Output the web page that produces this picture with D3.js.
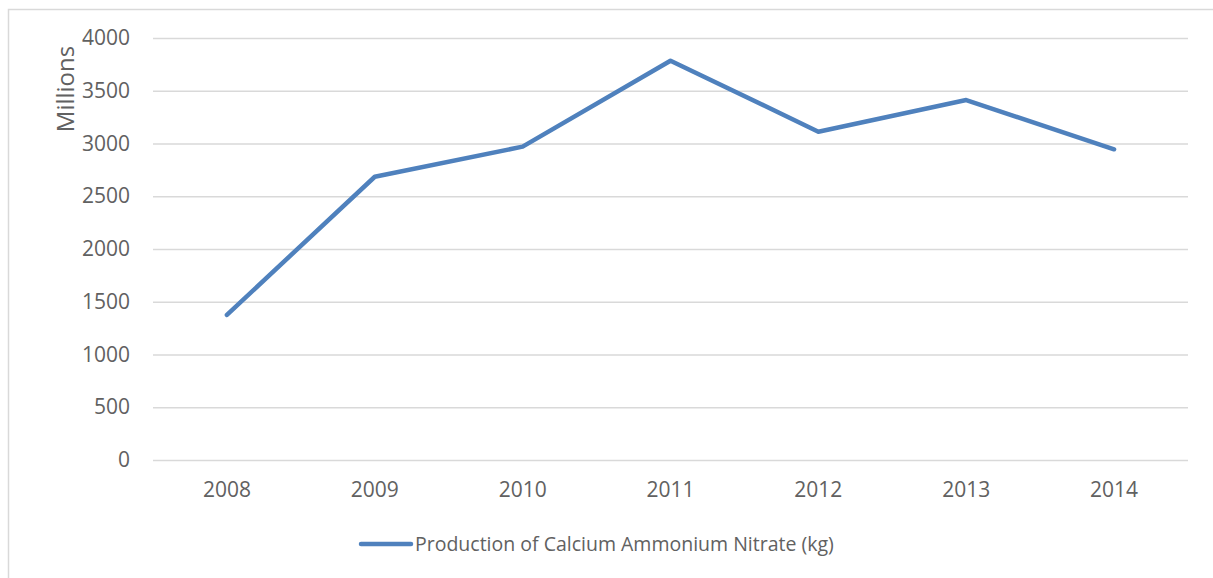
<!DOCTYPE html>
<html>
<head>
<meta charset="utf-8">
<script src="https://cdn.jsdelivr.net/npm/d3@7"></script>
<style>
  body { margin: 0; background: #fff; }
  svg { display: block; font-family: "Open Sans", sans-serif; }
  .tick text { fill: #616161; font-size: 21px; font-family: "Open Sans", sans-serif; }
</style>
</head>
<body>
<div id="chart"></div>
<script>
const years = ["2008", "2009", "2010", "2011", "2012", "2013", "2014"];
const production = [1375, 2685, 2970, 3785, 3112, 3412, 2945];
const yTicks = [0, 500, 1000, 1500, 2000, 2500, 3000, 3500, 4000];
const seriesName = "Production of Calcium Ammonium Nitrate (kg)";

const width = 1213, height = 578;
const plot = { left: 153, right: 1188, top: 38, bottom: 460 };

const svg = d3.select("#chart").append("svg")
    .attr("width", width)
    .attr("height", height);

// chart frame (cropped at right/bottom)
svg.append("path")
    .attr("d", `M8.5,${height + 2} V9.5 H${width + 2}`)
    .attr("fill", "none")
    .attr("stroke", "#d9d9d9")
    .attr("stroke-width", 1.5);

const x = d3.scaleBand().domain(years).range([plot.left, plot.right]);
const y = d3.scaleLinear().domain([0, 4000]).range([plot.bottom, plot.top]);

// gridlines + y labels
const yAxis = svg.append("g")
    .attr("transform", `translate(${plot.left},0)`)
    .call(d3.axisLeft(y).tickValues(yTicks).tickFormat(d3.format("d"))
        .tickSize(-(plot.right - plot.left)).tickPadding(23));
yAxis.select(".domain").remove();
yAxis.selectAll(".tick line").attr("stroke", "#d9d9d9").attr("stroke-width", 1.5);

const xAxis = svg.append("g")
    .attr("transform", `translate(0,${plot.bottom})`)
    .call(d3.axisBottom(x).tickSize(0).tickPadding(22));
xAxis.select(".domain").remove();

svg.append("text")
    .attr("transform", `translate(66,${(47 + 131) / 2}) rotate(-90)`)
    .attr("text-anchor", "middle")
    .attr("dy", "0.35em")
    .attr("fill", "#616161")
    .attr("font-size", 24)
    .text("Millions");

const line = d3.line()
    .x((d, i) => x(years[i]) + x.bandwidth() / 2)
    .y(d => y(d));

svg.append("path")
    .datum(production)
    .attr("d", line)
    .attr("fill", "none")
    .attr("stroke", "#4f81bd")
    .attr("stroke-width", 4.5)
    .attr("stroke-linecap", "round")
    .attr("stroke-linejoin", "round");

// legend
const lg = svg.append("g").attr("transform", "translate(0,544)");
lg.append("line")
    .attr("x1", 361).attr("x2", 411)
    .attr("stroke", "#4f81bd").attr("stroke-width", 4.5)
    .attr("stroke-linecap", "round");
lg.append("text")
    .attr("x", 415).attr("dy", "0.35em")
    .attr("fill", "#616161")
    .attr("font-size", 19.5)
    .text(seriesName);
</script>
</body>
</html>
